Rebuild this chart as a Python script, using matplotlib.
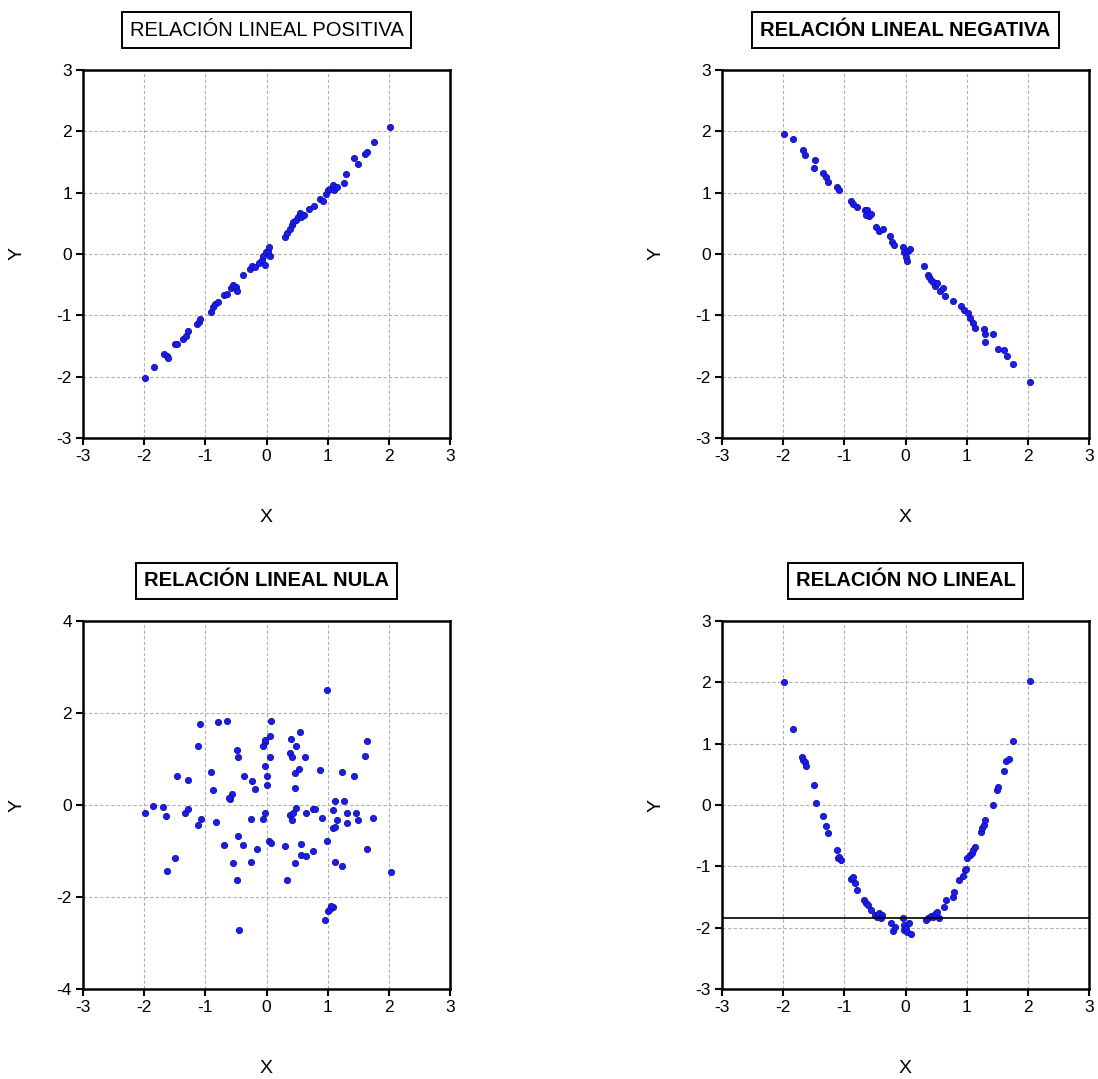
import matplotlib
matplotlib.use("Agg")
import matplotlib.pyplot as plt

plt.rcParams["font.family"] = ["Liberation Sans", "DejaVu Sans"]
plt.rcParams["axes.unicode_minus"] = False

# panel 1: positive linear relation
x_pos = [-1.98, -1.84, -1.67, -1.63, -1.61, -1.49, -1.46, -1.36, -1.32, -1.28,
         -1.14, -1.11, -1.08, -0.91, -0.88, -0.84, -0.79, -0.69, -0.64, -0.58,
         -0.54, -0.50, -0.49, -0.38, -0.27, -0.23, -0.19, -0.12, -0.08, -0.05,
         -0.03, -0.01, 0.02, 0.04, 0.06, 0.30, 0.34, 0.39, 0.41, 0.44,
         0.48, 0.52, 0.55, 0.57, 0.62, 0.70, 0.78, 0.88, 0.92, 0.97,
         1.00, 1.04, 1.08, 1.11, 1.16, 1.26, 1.30, 1.43, 1.49, 1.61,
         1.65, 1.75, 2.02]
y_pos = [-2.02, -1.84, -1.63, -1.66, -1.69, -1.47, -1.46, -1.39, -1.34, -1.25,
         -1.14, -1.11, -1.06, -0.95, -0.87, -0.82, -0.78, -0.67, -0.65, -0.55,
         -0.51, -0.53, -0.60, -0.35, -0.25, -0.19, -0.22, -0.14, -0.09, -0.04,
         -0.18, 0.03, 0.05, 0.12, -0.03, 0.27, 0.34, 0.41, 0.47, 0.52,
         0.56, 0.60, 0.67, 0.60, 0.64, 0.74, 0.78, 0.90, 0.86, 0.98,
         1.04, 1.06, 1.13, 1.04, 1.09, 1.16, 1.31, 1.56, 1.47, 1.63,
         1.67, 1.83, 2.07]

# panel 2: negative linear relation
x_neg = [-1.99, -1.84, -1.68, -1.64, -1.48, -1.50, -1.35, -1.30, -1.26, -1.12,
         -1.08, -0.89, -0.86, -0.79, -0.67, -0.63, -0.59, -0.64, -0.56, -0.48,
         -0.43, -0.37, -0.25, -0.22, -0.18, -0.04, -0.02, 0.01, 0.04, 0.07,
         0.03, 0.31, 0.36, 0.39, 0.42, 0.45, 0.48, 0.52, 0.56, 0.61,
         0.64, 0.77, 0.91, 0.96, 1.02, 1.06, 1.10, 1.13, 1.28, 1.30,
         1.30, 1.43, 1.51, 1.61, 1.66, 1.75, 2.03]
y_neg = [1.96, 1.87, 1.69, 1.61, 1.54, 1.40, 1.32, 1.25, 1.17, 1.09,
         1.04, 0.87, 0.82, 0.76, 0.71, 0.72, 0.62, 0.64, 0.65, 0.44,
         0.38, 0.40, 0.30, 0.19, 0.14, 0.11, 0.03, -0.05, 0.05, 0.08,
         -0.11, -0.19, -0.34, -0.38, -0.42, -0.46, -0.52, -0.47, -0.60, -0.56,
         -0.68, -0.76, -0.84, -0.91, -0.96, -1.04, -1.12, -1.20, -1.22, -1.31,
         -1.43, -1.31, -1.55, -1.56, -1.66, -1.80, -2.09]

# panel 3: no linear relation
x_nul = [-1.98, -1.86, -1.69, -1.65, -1.50, -1.62, -1.46, -1.28, -1.34, -1.29,
         -1.12, -1.08, -1.12, -1.07, -0.91, -0.88, -0.83, -0.80, -0.65, -0.69,
         -0.60, -0.57, -0.62, -0.55, -0.48, -0.46, -0.46, -0.48, -0.45, -0.38,
         -0.36, -0.24, -0.19, -0.25, -0.25, -0.15, -0.05, -0.05, -0.03, -0.02,
         -0.02, 0.00, 0.01, -0.02, 0.04, 0.07, 0.05, 0.05, 0.07, 0.31,
         0.34, 0.40, 0.39, 0.41, 0.38, 0.42, 0.43, 0.46, 0.47, 0.49,
         0.49, 0.46, 0.53, 0.54, 0.56, 0.56, 0.64, 0.63, 0.65, 0.76,
         0.76, 0.79, 0.87, 0.91, 0.99, 0.99, 0.95, 1.00, 1.04, 1.08,
         1.06, 1.08, 1.08, 1.12, 1.12, 1.15, 1.12, 1.24, 1.27, 1.24,
         1.31, 1.31, 1.43, 1.47, 1.50, 1.61, 1.64, 1.65, 1.74, 2.03]
y_nul = [-0.18, -0.02, -0.05, -0.24, -1.16, -1.44, 0.62, 0.55, -0.18, -0.09,
         1.29, 1.77, -0.44, -0.31, 0.72, 0.33, -0.38, 1.80, 1.83, -0.88,
         0.12, 0.25, 0.15, -1.26, 1.19, 1.04, -0.68, -1.62, -2.71, -0.86,
         0.63, 0.53, 0.34, -0.31, -1.24, -0.95, -0.31, 1.29, 1.38, 1.42,
         0.85, 0.62, 0.44, -0.17, -0.78, -0.82, 1.05, 1.51, 1.83, -0.89,
         -1.62, 1.43, 1.13, 1.04, -0.22, -0.33, -0.17, 0.36, -1.26, 1.29,
         -0.07, 0.69, 0.78, 1.58, -0.85, -1.08, -1.10, 1.05, -0.18, -1.00,
         -0.09, -0.09, 0.76, -0.28, 2.49, -0.79, -2.49, -2.31, -2.25, -2.22,
         -2.20, -0.11, -0.51, -0.47, 0.09, -0.33, -1.24, 0.71, 0.09, -1.33,
         -0.17, -0.40, 0.62, -0.18, -0.33, 1.07, 1.40, -0.95, -0.28, -1.45]

# panel 4: non linear relation
x_nl = [-1.99, -1.84, -1.69, -1.67, -1.65, -1.62, -1.49, -1.46, -1.35, -1.30,
        -1.26, -1.12, -1.11, -1.08, -1.06, -0.89, -0.86, -0.83, -0.79, -0.68,
        -0.64, -0.61, -0.57, -0.50, -0.46, -0.43, -0.38, -0.40, -0.23, -0.21,
        -0.17, -0.04, -0.02, -0.03, 0.01, 0.03, 0.05, 0.09, 0.33, 0.37,
        0.42, 0.45, 0.49, 0.52, 0.54, 0.63, 0.66, 0.77, 0.79, 0.88,
        0.94, 0.97, 0.99, 1.01, 1.05, 1.08, 1.10, 1.13, 1.23, 1.25,
        1.28, 1.30, 1.43, 1.49, 1.52, 1.61, 1.65, 1.69, 1.76, 2.03]
y_nl = [2.00, 1.24, 0.78, 0.74, 0.70, 0.63, 0.32, 0.03, -0.18, -0.34,
        -0.46, -0.74, -0.86, -0.84, -0.90, -1.20, -1.17, -1.27, -1.39, -1.55,
        -1.60, -1.63, -1.71, -1.79, -1.83, -1.76, -1.79, -1.84, -1.93, -2.05,
        -1.99, -1.85, -1.95, -2.04, -2.01, -2.07, -1.93, -2.10, -1.88, -1.85,
        -1.81, -1.83, -1.77, -1.74, -1.84, -1.66, -1.55, -1.50, -1.42, -1.22,
        -1.15, -1.06, -1.04, -0.87, -0.82, -0.79, -0.73, -0.68, -0.44, -0.38,
        -0.33, -0.25, 0.00, 0.25, 0.30, 0.56, 0.71, 0.75, 1.05, 2.02]
h_line = -1.84

titles = ["RELACIÓN LINEAL POSITIVA", "RELACIÓN LINEAL NEGATIVA",
          "RELACIÓN LINEAL NULA", "RELACIÓN NO LINEAL"]

fig = plt.figure(figsize=(10.98, 10.79), dpi=100)
W, H = 1098, 1079
boxes = [(83, 70), (722, 70), (83, 621), (722, 621)]
aw, ah = 367, 368
axes = [fig.add_axes([l / W, 1 - (t + ah) / H, aw / W, ah / H]) for l, t in boxes]

data = [(x_pos, y_pos), (x_neg, y_neg), (x_nul, y_nul), (x_nl, y_nl)]
for i, ax in enumerate(axes):
    xs, ys = data[i]
    ax.scatter(xs, ys, s=20, color="#1a1aff", edgecolors="#10109a",
               linewidths=0.6, zorder=3)
    ax.set_xlim(-3, 3)
    ax.set_xticks([-3, -2, -1, 0, 1, 2, 3])
    if i == 2:
        ax.set_ylim(-4, 4)
        ax.set_yticks([-4, -2, 0, 2, 4])
    else:
        ax.set_ylim(-3, 3)
        ax.set_yticks([-3, -2, -1, 0, 1, 2, 3])
    ax.grid(True, color="#b0b0b0", linestyle=(0, (3, 2)), linewidth=0.8)
    ax.set_axisbelow(True)
    for sp in ax.spines.values():
        sp.set_linewidth(1.8)
    ax.tick_params(direction="out", length=5, width=1.5, labelsize=12.5, pad=3)
    ax.set_xlabel("X", fontsize=14)
    ax.set_ylabel("Y", fontsize=14)
    ax.xaxis.set_label_coords(0.5, -71 / ah)
    ax.yaxis.set_label_coords(-57 / aw, 0.5)
    ax.text(0.5, 1 + 40 / ah, titles[i], transform=ax.transAxes,
            ha="center", va="center", fontsize=14.5,
            fontweight="normal" if i == 0 else "bold",
            bbox=dict(boxstyle="square,pad=0.4", facecolor="white",
                      edgecolor="black", linewidth=1.4))

axes[3].axhline(h_line, color="black", linewidth=1.2, zorder=4)

fig.savefig("out.png", dpi=100)
